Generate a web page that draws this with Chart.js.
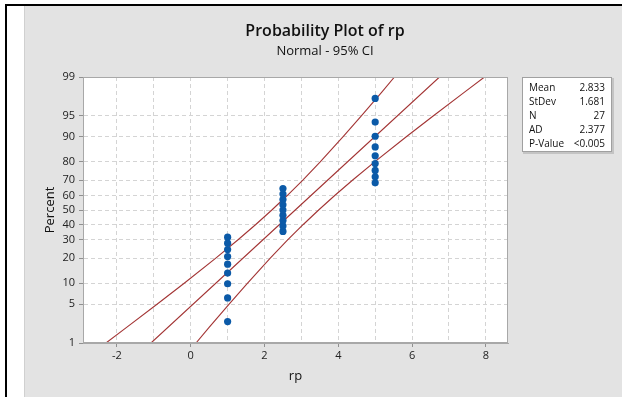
<!DOCTYPE html>
<html><head><meta charset="utf-8">
<script src="https://cdn.jsdelivr.net/npm/chart.js@4"></script>
<style>html,body{margin:0;padding:0;background:#fff;overflow:hidden}canvas{display:block}</style>
</head><body>
<canvas id="c" width="622" height="397"></canvas>
<script>
// ---- data ----
const rpValues = [1,1,1,1,1,1,1,1,1, 2.5,2.5,2.5,2.5,2.5,2.5,2.5,2.5,2.5, 5,5,5,5,5,5,5,5,5];
const percentValues = [2.55,6.20,9.85,13.50,17.15,20.80,24.45,28.10,31.75,
                       35.40,39.05,42.70,46.35,50.00,53.65,57.30,60.95,64.60,
                       68.25,71.90,75.55,79.20,82.85,86.50,90.15,93.80,97.45];
const percentTicks = [1,5,10,20,30,40,50,60,70,80,90,95,99];
const xTickLabels = [-2,0,2,4,6,8];
const fitX = [-1.077, 2.833, 6.743];
const fitPercent = [1, 50, 99];
const bandPercent = [1,2,5,10,20,30,40,50,60,70,80,90,95,98,99];
const upperBandX = [-2.297,-1.738,-0.905,-0.177,0.680,1.275,1.763,2.199,2.615,3.039,3.510,4.131,4.625,5.168,5.523];
const lowerBandX = [0.143,0.498,1.041,1.535,2.156,2.627,3.051,3.467,3.903,4.391,4.986,5.843,6.571,7.404,7.963];
const statLabels = ['Mean','StDev','N','AD','P-Value'];
const statValues = ['2.833','1.681','27','2.377','<0.005'];
const titleText = 'Probability Plot of rp';
const subtitleText = 'Normal - 95% CI';

const FONT = "'Open Sans','Noto Sans',sans-serif";

// ---- normal probability (probit) scale ----
function probit(p){
  const a=[-3.969683028665376e+01,2.209460984245205e+02,-2.759285104469687e+02,1.383577518672690e+02,-3.066479806614716e+01,2.506628277459239e+00];
  const b=[-5.447609879822406e+01,1.615858368580409e+02,-1.556989798598866e+02,6.680131188771972e+01,-1.328068155288572e+01];
  const c=[-7.784894002430293e-03,-3.223964580411365e-01,-2.400758277161838e+00,-2.549732539343734e+00,4.374664141464968e+00,2.938163982698783e+00];
  const d=[7.784695709041462e-03,3.224671290700398e-01,2.445134137142996e+00,3.754408661907416e+00];
  const pl=0.02425, ph=1-pl; let q,r;
  if(p<pl){q=Math.sqrt(-2*Math.log(p));return (((((c[0]*q+c[1])*q+c[2])*q+c[3])*q+c[4])*q+c[5])/((((d[0]*q+d[1])*q+d[2])*q+d[3])*q+1);}
  if(p<=ph){q=p-0.5;r=q*q;return (((((a[0]*r+a[1])*r+a[2])*r+a[3])*r+a[4])*r+a[5])*q/(((((b[0]*r+b[1])*r+b[2])*r+b[3])*r+b[4])*r+1);}
  q=Math.sqrt(-2*Math.log(1-p));return -(((((c[0]*q+c[1])*q+c[2])*q+c[3])*q+c[4])*q+c[5])/((((d[0]*q+d[1])*q+d[2])*q+d[3])*q+1);
}
function ncdf(z){
  const t=1/(1+0.2316419*Math.abs(z));
  const y=t*(0.319381530+t*(-0.356563782+t*(1.781477937+t*(-1.821255978+t*1.330274429))));
  const p=1-Math.exp(-z*z/2)/Math.sqrt(2*Math.PI)*y;
  return z>=0?p:1-p;
}
class ProbitScale extends Chart.LinearScale {
  buildTicks(){ return percentTicks.map(v=>({value:v})); }
  configure(){ super.configure(); this._zMin=probit(this.min/100); this._zMax=probit(this.max/100); }
  getPixelForValue(v){ return this.getPixelForDecimal((probit(v/100)-this._zMin)/(this._zMax-this._zMin)); }
  getValueForPixel(px){ const d=this.getDecimalForPixel(px); return 100*ncdf(this._zMin+d*(this._zMax-this._zMin)); }
}
ProbitScale.id='probit';
ProbitScale.defaults={ticks:{callback:(v)=>String(v)}};
Chart.register(ProbitScale);

const pts = rpValues.map((x,i)=>({x:x,y:percentValues[i]}));
const fitPts = fitX.map((x,i)=>({x:x,y:fitPercent[i]}));
const upPts = upperBandX.map((x,i)=>({x:x,y:bandPercent[i]}));
const loPts = lowerBandX.map((x,i)=>({x:x,y:bandPercent[i]}));

const LINE = '#a33434';
const GRID = '#d4d4d4';

const framePlugin = {
  id:'frame',
  beforeDraw(chart){
    const ctx=chart.ctx, a=chart.chartArea;
    ctx.save();
    ctx.fillStyle='#fff'; ctx.fillRect(0,0,622,397);
    ctx.fillStyle='#e3e3e3'; ctx.fillRect(24,6,598,391);
    ctx.fillStyle='#d0d0d0'; ctx.fillRect(24,6,1,391);
    ctx.fillStyle='#000'; ctx.fillRect(5,4,617,2); ctx.fillRect(5,4,2,393);
    ctx.fillStyle='#fff'; ctx.fillRect(a.left,a.top,a.right-a.left,a.bottom-a.top);
    ctx.restore();
  },
  afterDraw(chart){
    const ctx=chart.ctx, a=chart.chartArea;
    ctx.save();
    ctx.strokeStyle='#a8a8a8'; ctx.lineWidth=1;
    ctx.strokeRect(a.left+0.5,a.top+0.5,a.right-a.left-1,a.bottom-a.top-1);
    // titles
    ctx.fillStyle='#111'; ctx.textAlign='center'; ctx.textBaseline='middle';
    ctx.font="600 16px "+FONT; ctx.fillText(titleText,325,31);
    ctx.font="13px "+FONT; ctx.fillText(subtitleText,325,51);
    // stats box
    const bx=522, by=77, bw=90, bh=75;
    ctx.fillStyle='#c4c4c4'; ctx.fillRect(bx+1,by+1,bw+1,bh+1);
    ctx.fillStyle='#fff'; ctx.fillRect(bx,by,bw,bh);
    ctx.strokeStyle='#a0a0a0'; ctx.strokeRect(bx+0.5,by+0.5,bw-1,bh-1);
    ctx.font="10px "+FONT; ctx.fillStyle='#111';
    statLabels.forEach((l,i)=>{
      const y=by+11+i*14;
      ctx.textAlign='left'; ctx.fillText(l,bx+7,y);
      ctx.textAlign='right'; ctx.fillText(statValues[i],bx+bw-7,y);
    });
    ctx.restore();
  }
};

new Chart(document.getElementById('c'),{
  type:'scatter',
  data:{datasets:[
    {label:'rp',data:pts,pointRadius:3.6,pointHoverRadius:3.6,backgroundColor:'#0b5aa8',borderColor:'#0b5aa8',borderWidth:0,showLine:false},
    {label:'Fit',data:fitPts,showLine:true,pointRadius:0,borderColor:LINE,borderWidth:1.1,fill:false},
    {label:'Upper CI',data:upPts,showLine:true,pointRadius:0,borderColor:LINE,borderWidth:1.1,fill:false,tension:0},
    {label:'Lower CI',data:loPts,showLine:true,pointRadius:0,borderColor:LINE,borderWidth:1.1,fill:false,tension:0}
  ]},
  options:{
    responsive:false, animation:false, devicePixelRatio:1,
    layout:{padding:{top:77,left:0,right:114,bottom:0}},
    plugins:{legend:{display:false},tooltip:{enabled:false},title:{display:false}},
    scales:{
      x:{type:'linear',min:-2.92,max:8.6,
        afterFit(s){s.height=54;},
        ticks:{stepSize:1,includeBounds:false,autoSkip:false,maxRotation:0,padding:2,color:'#222',
          font:{family:FONT,size:11},
          callback:(v)=>xTickLabels.includes(v)?String(v):''},
        grid:{color:GRID,tickLength:4,tickBorderDash:[],
          tickColor:(c)=>(c.tick&&xTickLabels.includes(c.tick.value))?'#909090':'rgba(0,0,0,0)'},
        border:{display:true,color:'#a8a8a8',dash:[4,3]},
        title:{display:true,text:'rp',color:'#111',font:{family:FONT,size:13},padding:{top:0,bottom:13}}
      },
      y:{type:'probit',min:1,max:99,
        afterFit(s){s.width=83;},
        ticks:{autoSkip:false,padding:4,color:'#222',font:{family:FONT,size:11},callback:(v)=>String(v)},
        grid:{color:GRID,tickLength:4,tickBorderDash:[],tickColor:'#909090'},
        border:{display:true,color:'#a8a8a8',dash:[4,3]},
        title:{display:true,text:'Percent',color:'#111',font:{family:FONT,size:13},padding:{top:42,bottom:0}}
      }
    }
  },
  plugins:[framePlugin]
});
</script>
</body></html>
